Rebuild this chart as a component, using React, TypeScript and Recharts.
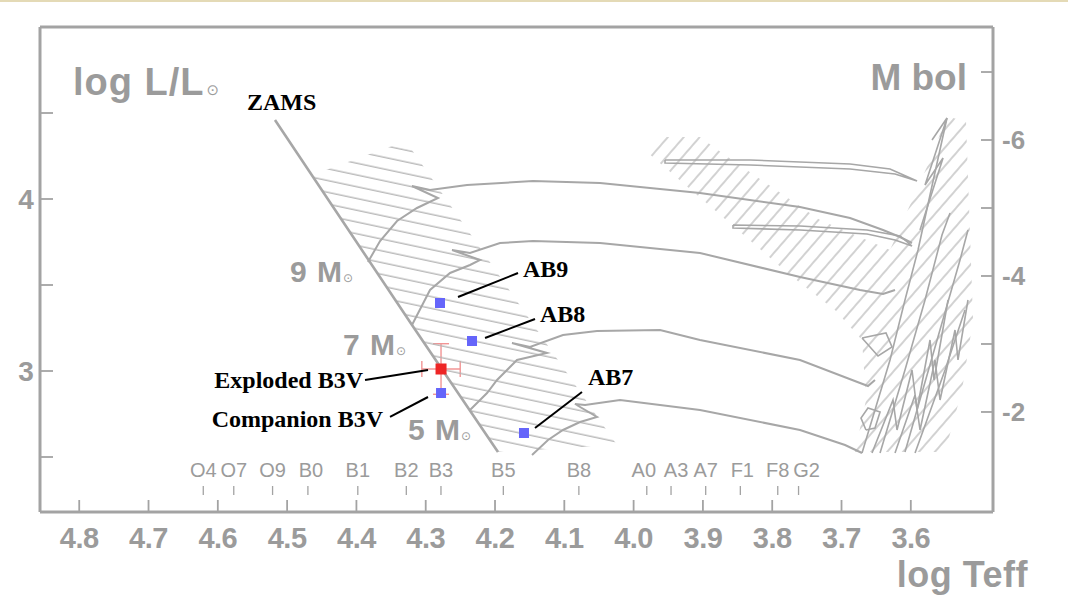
import React from "react";
import { ComposedChart, Scatter, XAxis, YAxis, ErrorBar, Label } from "recharts";

const W = 1068;
const H = 606;

const GRAY_TEXT = "#9b9b9b";
const GRAY_LINE = "#a7a7a7";
const FRAME = "#a3a3a3";
const HATCH = "#b3b3b3";
const SANS = "'Liberation Sans', Arial, Helvetica, sans-serif";
const SERIF = "'Liberation Serif', 'Times New Roman', Times, serif";
const SYMBOL = "'DejaVu Sans', sans-serif";

// axis ranges
const teffDomain = [3.4814, 4.8566];
const lumDomain = [2.1802, 5.0];
const mbolDomain = [-7.662, -0.529];
const teffTicks = [4.8, 4.7, 4.6, 4.5, 4.4, 4.3, 4.2, 4.1, 4.0, 3.9, 3.8, 3.7, 3.6];
const teffTopTicks = [...teffTicks, 3.5];
const lumTicks = [2.5, 3, 3.5, 4, 4.5];
const mbolTicks = [-7, -6, -5, -4, -3, -2];

// spectral types marked along the bottom
const specTypes = ["O4", "O7", "O9", "B0", "B1", "B2", "B3", "B5", "B8", "A0", "A3", "A7", "F1", "F8", "G2"];
const specTeff = [4.621, 4.577, 4.521, 4.47, 4.398, 4.328, 4.278, 4.188, 4.079, 3.981, 3.946, 3.896, 3.846, 3.792, 3.762];

// evolutionary tracks, [log Teff, log L]
const zams = [[4.5175, 4.4593], [4.3198, 3.2674], [4.1957, 2.5291]];

const track9 = [
  [4.3833, 3.6337], [4.3659, 3.7558], [4.3414, 3.8721], [4.3126, 3.9477], [4.2823, 4.0058],
  [4.3198, 4.0756], [4.2938, 4.0523], [4.2404, 4.0814], [4.1452, 4.1047], [4.0485, 4.093],
  [3.9042, 4.0349], [3.7599, 3.9535], [3.6877, 3.8895], [3.6401, 3.8198], [3.6156, 3.7791], [3.5983, 3.7442],
];
const track7 = [
  [4.3198, 3.2674], [4.2938, 3.4709], [4.2649, 3.5698], [4.2361, 3.6163], [4.2216, 3.6453],
  [4.262, 3.7035], [4.2361, 3.686], [4.1928, 3.7442], [4.1452, 3.7558], [4.0485, 3.7442],
  [3.9042, 3.686], [3.7599, 3.5465], [3.6733, 3.4709], [3.6401, 3.4477], [3.6228, 3.4709],
];
const track5 = [
  [4.2361, 2.7733], [4.2115, 2.8721], [4.1971, 2.9477], [4.1683, 3.064], [4.125, 3.1047],
  [4.1755, 3.1628], [4.1495, 3.1395], [4.1019, 3.2093], [4.0528, 3.2326], [3.9619, 3.2384],
  [3.9042, 3.1802], [3.7599, 3.064], [3.6733, 2.9302], [3.6618, 2.9128], [3.6517, 2.9477],
];
const track4 = [
  [4.1466, 2.5116], [4.1235, 2.5988], [4.1019, 2.657], [4.0773, 2.7035], [4.0528, 2.7326],
  [4.0846, 2.8081], [4.0701, 2.8023], [4.0196, 2.8314], [3.9042, 2.7733], [3.7599, 2.657],
  [3.6949, 2.5698], [3.6704, 2.5233],
];

// blue loops
const loopTop = [
  [3.9547, 4.2267], [3.832, 4.2267], [3.6877, 4.2035], [3.63, 4.1744], [3.591, 4.1047],
  [3.6228, 4.1453], [3.6877, 4.1744], [3.832, 4.1977], [3.9547, 4.2093], [3.9547, 4.2267],
];
const loopMid = [
  [3.8566, 3.8488], [3.7599, 3.843], [3.6632, 3.8198], [3.6156, 3.7849], [3.5983, 3.7267],
  [3.6228, 3.7616], [3.6632, 3.7965], [3.7599, 3.8198], [3.8566, 3.8314], [3.8566, 3.8488],
];
const loop7 = [[3.6704, 3.1919], [3.6358, 3.2209], [3.6271, 3.1395], [3.6473, 3.0872], [3.6704, 3.1919]];
const loop5 = [[3.6647, 2.657], [3.6719, 2.7267], [3.6618, 2.7849], [3.6444, 2.7616], [3.6517, 2.6686], [3.6647, 2.657]];

// red giant branches
const branchA = [[3.6704, 2.5233], [3.63, 3.064], [3.6084, 3.4128], [3.5896, 3.7035], [3.5723, 4.0233], [3.5478, 4.4709]];
const branchB = [[3.5694, 4.343], [3.5478, 4.4709], [3.5795, 4.0814], [3.5535, 4.2384], [3.5867, 3.8198]];
const branchC = [[3.6444, 2.5233], [3.6084, 3.0058], [3.5795, 3.4128], [3.555, 3.7907], [3.5434, 3.9186]];
const branchD = [
  [3.6228, 2.5233], [3.5939, 2.8605], [3.5867, 2.657], [3.5651, 3.064], [3.5578, 2.8314],
  [3.5362, 3.2384], [3.5319, 3.064], [3.5175, 3.4128],
];
const branchE = [[3.5939, 2.5233], [3.5506, 3.0058], [3.5218, 3.3547]];
const branchF = [
  [3.656, 2.5233], [3.6257, 2.8314], [3.6199, 2.657], [3.5983, 3.0058], [3.591, 2.7733],
  [3.5723, 3.1802], [3.5665, 2.9477], [3.5463, 3.4128],
];
const branchG = [[3.6084, 2.5291], [3.529, 3.6453], [3.5175, 3.8198]];

// hatched zones
const msBand = [[4.4641, 4.1395], [4.3486, 4.3081], [4.3198, 4.2849], [4.024, 2.5698], [4.1957, 2.5291]];
const giantZone = [
  [3.9807, 4.2733], [3.9691, 4.3605], [3.9042, 4.3605], [3.8724, 4.2674], [3.731, 3.8779],
  [3.63, 3.7035], [3.5723, 4.2267], [3.5478, 4.4826], [3.5203, 4.4477], [3.5102, 3.2965],
  [3.5261, 2.8895], [3.5506, 2.5291], [3.6805, 2.5291], [3.6646, 2.8314], [3.6704, 3.1802],
  [3.7094, 3.3547], [3.7743, 3.5581],
];

// stars
const starNames = ["AB9", "AB8", "AB7", "Companion B3V"];
const starTeff = [4.2794, 4.2332, 4.1582, 4.2779];
const starLum = [3.3953, 3.1744, 2.6395, 2.872];
const explodedTeff = 4.2779;
const explodedLum = 3.0116;
const explodedTeffErr = 0.0277;
const explodedLumErr = 0.147;

// labels
const massText = ["9 M", "7 M", "5 M"];
const massAt = [[4.4958, 3.5174], [4.4193, 3.093], [4.3255, 2.5988]];
const noteText = ["ZAMS", "AB9", "AB8", "AB7", "Exploded B3V", "Companion B3V"];
const noteAt = [[4.5579, 4.5174], [4.1596, 3.5465], [4.1351, 3.2849], [4.0658, 2.9186], [4.3905, 2.9012], [4.3616, 2.6744]];
const noteAlign = ["start", "start", "start", "start", "end", "end"];
const leaders = [
  [[4.2534, 3.4302], [4.1668, 3.5698]],
  [[4.2144, 3.1919], [4.1423, 3.3023]],
  [[4.1423, 2.6686], [4.0745, 2.8779]],
  [[4.3876, 2.9477], [4.2967, 3.0058]],
  [[4.3515, 2.7326], [4.2967, 2.8488]],
];

const pts = (arr: number[][]) => arr.map(([t, L]) => ({ t, L }));
const SPEC_ROW_L = 2.3837;

const specData = specTypes.map((name, i) => ({ t: specTeff[i], L: SPEC_ROW_L, name }));
const starData = starNames.map((name, i) => ({ t: starTeff[i], L: starLum[i], name }));
const explodedData = [{ t: explodedTeff, L: explodedLum, dt: explodedTeffErr, dL: explodedLumErr }];
const massData = massText.map((text, i) => ({ t: massAt[i][0], L: massAt[i][1], text }));
const noteData = noteText.map((text, i) => ({ t: noteAt[i][0], L: noteAt[i][1], text, align: noteAlign[i] }));

// crowded spectral labels are shifted a little off their tick
const specShift: Record<string, number> = { B0: 3, A0: -3, A3: 5, F1: 2, G2: 8 };

const hidden = () => <g />;

const BottomTick = (p: any) => (
  <g>
    <line x1={p.x} y1={p.y - 12} x2={p.x} y2={p.y} stroke={FRAME} strokeWidth={1.8} />
    <text x={p.x} y={p.y + 36} textAnchor="middle" fontFamily={SANS} fontWeight="bold" fontSize={29} fill={GRAY_TEXT} letterSpacing={-0.5}>
      {Number(p.payload.value).toFixed(1)}
    </text>
  </g>
);

const TopTick = (p: any) => (
  <line x1={p.x} y1={p.y} x2={p.x} y2={p.y + 13} stroke={FRAME} strokeWidth={1.8} />
);

const LeftTick = (p: any) => {
  const v = Number(p.payload.value);
  return (
    <g>
      <line x1={p.x} y1={p.y} x2={p.x + 13} y2={p.y} stroke={FRAME} strokeWidth={1.8} />
      {Number.isInteger(v) && (
        <text x={p.x - 14} y={p.y + 10} textAnchor="middle" fontFamily={SANS} fontWeight="bold" fontSize={28} fill={GRAY_TEXT}>
          {v}
        </text>
      )}
    </g>
  );
};

const RightTick = (p: any) => {
  const v = Number(p.payload.value);
  return (
    <g>
      <line x1={p.x - 12} y1={p.y} x2={p.x} y2={p.y} stroke={FRAME} strokeWidth={1.8} />
      {v % 2 === 0 && (
        <text x={p.x + 9} y={p.y + 9} textAnchor="start" fontFamily={SANS} fontWeight="bold" fontSize={26} fill={GRAY_TEXT}>
          {"-" + Math.abs(v)}
        </text>
      )}
    </g>
  );
};

const LumTitle = (p: any) => {
  const vb = p.viewBox;
  return (
    <text x={vb.x + vb.width + 33} y={vb.y + 68} fontFamily={SANS} fontWeight="bold" fontSize={38} fill={GRAY_TEXT} letterSpacing={1}>
      log L/L
      <tspan fontSize={15} fontWeight="normal" fontFamily={SYMBOL} dx={2}>⊙</tspan>
    </text>
  );
};

const MbolTitle = (p: any) => {
  const vb = p.viewBox;
  return (
    <text x={vb.x - 26} y={vb.y + 63} textAnchor="end" fontFamily={SANS} fontWeight="bold" fontSize={37} fill={GRAY_TEXT}>
      M bol
    </text>
  );
};

const TeffTitle = (p: any) => {
  const vb = p.viewBox;
  return (
    <text x={vb.x + vb.width + 35} y={vb.y + 75} textAnchor="end" fontFamily={SANS} fontWeight="bold" fontSize={36} fill={GRAY_TEXT} letterSpacing={0.5}>
      log Teff
    </text>
  );
};

const SpecMark = (p: any) => {
  const dx = specShift[p.payload.name] || 0;
  return (
    <g>
      <text x={p.cx + dx} y={p.cy} textAnchor="middle" fontFamily={SANS} fontSize={20} fill={GRAY_TEXT}>
        {p.payload.name}
      </text>
      <line x1={p.cx} y1={p.cy + 9} x2={p.cx} y2={p.cy + 18} stroke={FRAME} strokeWidth={1.3} />
    </g>
  );
};

const MassLabel = (p: any) => (
  <text x={p.cx} y={p.cy} fontFamily={SANS} fontWeight="bold" fontSize={30} fill={GRAY_TEXT} letterSpacing={1}>
    {p.payload.text}
    <tspan fontSize={12} fontWeight="normal" fontFamily={SYMBOL}>⊙</tspan>
  </text>
);

const NoteLabel = (p: any) => (
  <text x={p.cx} y={p.cy} textAnchor={p.payload.align} fontFamily={SERIF} fontWeight="bold" fontSize={24} fill="#000">
    {p.payload.text}
  </text>
);

const BlueSquare = (p: any) => <rect x={p.cx - 5} y={p.cy - 5} width={10} height={10} fill="#6565fa" />;
const RedSquare = (p: any) => <rect x={p.cx - 5.5} y={p.cy - 5.5} width={11} height={11} fill="#ee2525" />;

const trackLine = { stroke: GRAY_LINE, strokeWidth: 2 };
const thinLine = { stroke: GRAY_LINE, strokeWidth: 1.6 };
const axisStyle = { stroke: FRAME, strokeWidth: 3 };

export default function App() {
  const tracks = [track9, track7, track5, track4];
  const loops = [loopTop, loopMid, loop7, loop5];
  const branches = [branchA, branchB, branchC, branchD, branchE, branchF, branchG];

  return (
    <div style={{ position: "absolute", left: 0, top: 0, width: W, height: H, background: "#fff", overflow: "hidden" }}>
      <div style={{ position: "absolute", left: 0, top: 0, width: W, height: 2, background: "#e4dab6" }} />
      <svg width={0} height={0} style={{ position: "absolute" }}>
        <defs>
          <pattern id="hatchMS" width={20} height={11.5} patternUnits="userSpaceOnUse" patternTransform="rotate(12)">
            <line x1={0} y1={5} x2={20} y2={5} stroke={HATCH} strokeWidth={1.3} />
          </pattern>
          <pattern id="hatchGiant" width={20} height={12} patternUnits="userSpaceOnUse" patternTransform="rotate(-49)">
            <line x1={0} y1={6} x2={20} y2={6} stroke={HATCH} strokeWidth={1.2} />
          </pattern>
        </defs>
      </svg>
      <ComposedChart width={W} height={H} margin={{ top: 17, right: 15, bottom: 34, left: 0 }}>
        <XAxis
          xAxisId="b"
          type="number"
          dataKey="t"
          domain={teffDomain}
          reversed
          allowDataOverflow
          ticks={teffTicks}
          interval={0}
          height={60}
          tickSize={0}
          tickMargin={0}
          tickLine={false}
          tick={BottomTick}
          axisLine={axisStyle}
        >
          <Label content={TeffTitle} />
        </XAxis>
        <XAxis
          xAxisId="t"
          orientation="top"
          type="number"
          domain={teffDomain}
          reversed
          allowDataOverflow
          ticks={teffTopTicks}
          interval={0}
          height={10}
          tickSize={0}
          tickMargin={0}
          tickLine={false}
          tick={TopTick}
          axisLine={axisStyle}
        />
        <YAxis
          yAxisId="L"
          type="number"
          dataKey="L"
          domain={lumDomain}
          allowDataOverflow
          ticks={lumTicks}
          interval={0}
          width={40}
          tickSize={0}
          tickMargin={0}
          tickLine={false}
          tick={LeftTick}
          axisLine={axisStyle}
        >
          <Label content={LumTitle} />
        </YAxis>
        <YAxis
          yAxisId="M"
          orientation="right"
          type="number"
          domain={mbolDomain}
          reversed
          allowDataOverflow
          ticks={mbolTicks}
          interval={0}
          width={60}
          tickSize={0}
          tickMargin={0}
          tickLine={false}
          tick={RightTick}
          axisLine={axisStyle}
        >
          <Label content={MbolTitle} />
        </YAxis>

        {/* hatched zones */}
        <Scatter xAxisId="b" yAxisId="L" data={pts(msBand)} shape={hidden} line={{ fill: "url(#hatchMS)", stroke: "none" }} isAnimationActive={false} />
        <Scatter xAxisId="b" yAxisId="L" data={pts(giantZone)} shape={hidden} line={{ fill: "url(#hatchGiant)", stroke: "none" }} isAnimationActive={false} />

        {/* tracks, loops and giant branches */}
        {tracks.map((tr, i) => (
          <Scatter key={"tr" + i} xAxisId="b" yAxisId="L" data={pts(tr)} shape={hidden} line={trackLine} isAnimationActive={false} />
        ))}
        {loops.map((lp, i) => (
          <Scatter key={"lp" + i} xAxisId="b" yAxisId="L" data={pts(lp)} shape={hidden} line={thinLine} isAnimationActive={false} />
        ))}
        {branches.map((br, i) => (
          <Scatter key={"br" + i} xAxisId="b" yAxisId="L" data={pts(br)} shape={hidden} line={thinLine} isAnimationActive={false} />
        ))}
        <Scatter xAxisId="b" yAxisId="L" data={pts(zams)} shape={hidden} line={{ stroke: GRAY_LINE, strokeWidth: 2.6 }} isAnimationActive={false} />

        {/* spectral types and gray mass labels */}
        <Scatter xAxisId="b" yAxisId="L" data={specData} shape={SpecMark} isAnimationActive={false} />
        <Scatter xAxisId="b" yAxisId="L" data={massData} shape={MassLabel} isAnimationActive={false} />

        {/* annotations */}
        {leaders.map((ld, i) => (
          <Scatter key={"ld" + i} xAxisId="b" yAxisId="L" data={pts(ld)} shape={hidden} line={{ stroke: "#000", strokeWidth: 2 }} isAnimationActive={false} />
        ))}
        <Scatter xAxisId="b" yAxisId="L" data={noteData} shape={NoteLabel} isAnimationActive={false} />

        {/* stars */}
        <Scatter xAxisId="b" yAxisId="L" data={starData} shape={BlueSquare} isAnimationActive={false} />
        <Scatter xAxisId="b" yAxisId="L" data={explodedData} shape={RedSquare} isAnimationActive={false}>
          <ErrorBar dataKey="dL" direction="y" width={8} stroke="#f29494" strokeWidth={1.4} />
          <ErrorBar dataKey="dt" direction="x" width={8} stroke="#f29494" strokeWidth={1.4} />
        </Scatter>
      </ComposedChart>
    </div>
  );
}
